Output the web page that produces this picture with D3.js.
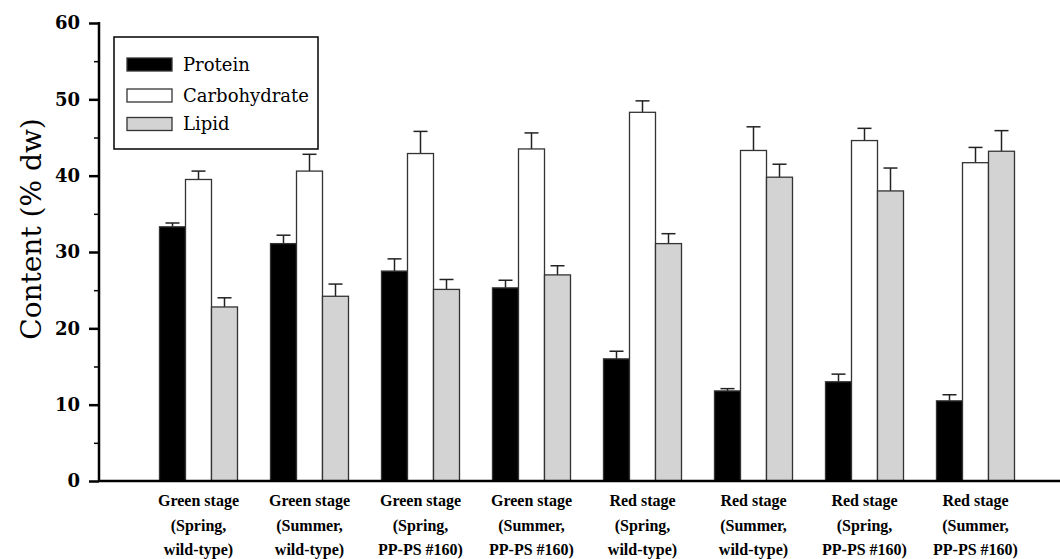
<!DOCTYPE html>
<html>
<head>
<meta charset="utf-8">
<script src="https://cdn.jsdelivr.net/npm/d3@7"></script>
<style>
  html, body { margin: 0; padding: 0; background: #fff; }
  svg { display: block; }
</style>
</head>
<body>
<svg id="chart" width="1060" height="559"></svg>
<script>
// ---- data ----
const categories = [
  ["Green stage", "(Spring,", "wild-type)"],
  ["Green stage", "(Summer,", "wild-type)"],
  ["Green stage", "(Spring,", "PP-PS #160)"],
  ["Green stage", "(Summer,", "PP-PS #160)"],
  ["Red stage", "(Spring,", "wild-type)"],
  ["Red stage", "(Summer,", "wild-type)"],
  ["Red stage", "(Spring,", "PP-PS #160)"],
  ["Red stage", "(Summer,", "PP-PS #160)"]
];
const seriesNames = ["Protein", "Carbohydrate", "Lipid"];
const protein = [33.3, 31.1, 27.5, 25.3, 16.0, 11.8, 13.0, 10.5];
const proteinErr = [0.5, 1.1, 1.6, 1.0, 1.0, 0.3, 1.0, 0.8];
const carbohydrate = [39.5, 40.6, 42.9, 43.5, 48.3, 43.3, 44.6, 41.7];
const carbohydrateErr = [1.1, 2.2, 2.9, 2.1, 1.5, 3.1, 1.6, 2.0];
const lipid = [22.8, 24.2, 25.1, 27.0, 31.1, 39.8, 38.0, 43.2];
const lipidErr = [1.2, 1.6, 1.3, 1.2, 1.3, 1.7, 3.0, 2.7];
const yTicks = [0, 10, 20, 30, 40, 50, 60];
const yMinorTicks = [5, 15, 25, 35, 45, 55];
const yTitle = "Content (% dw)";

const seriesColors = { "Protein": "#000000", "Carbohydrate": "#ffffff", "Lipid": "#d3d3d3" };
const seriesValues = { "Protein": protein, "Carbohydrate": carbohydrate, "Lipid": lipid };
const seriesErrs = { "Protein": proteinErr, "Carbohydrate": carbohydrateErr, "Lipid": lipidErr };

// ---- layout ----
const svg = d3.select("#chart");
const axisX = 99, yTop = 23, yBottom = 481;
const y = d3.scaleLinear().domain([0, 60]).range([yBottom, yTop]);
const catIdx = d3.range(categories.length);
const x0 = d3.scaleBand().domain(catIdx).range([143, 1031]).padding(0);
const x1 = d3.scaleBand().domain(seriesNames).range([16.5, 94.5]).padding(0);

const serif = "'DejaVu Serif', 'Liberation Serif', serif";

// bars
const barData = [];
seriesNames.forEach(s => {
  catIdx.forEach(i => barData.push({ s, i, v: seriesValues[s][i], e: seriesErrs[s][i] }));
});

const g = svg.append("g");
g.selectAll("line.err").data(barData).enter().append("line")
  .attr("x1", d => x0(d.i) + x1(d.s) + x1.bandwidth() / 2)
  .attr("x2", d => x0(d.i) + x1(d.s) + x1.bandwidth() / 2)
  .attr("y1", d => y(d.v))
  .attr("y2", d => y(d.v + d.e))
  .attr("stroke", "#222").attr("stroke-width", 1.5);
g.selectAll("line.cap").data(barData).enter().append("line")
  .attr("x1", d => x0(d.i) + x1(d.s) + x1.bandwidth() / 2 - 7)
  .attr("x2", d => x0(d.i) + x1(d.s) + x1.bandwidth() / 2 + 7)
  .attr("y1", d => y(d.v + d.e))
  .attr("y2", d => y(d.v + d.e))
  .attr("stroke", "#222").attr("stroke-width", 1.5);

g.selectAll("rect.bar").data(barData).enter().append("rect")
  .attr("x", d => x0(d.i) + x1(d.s))
  .attr("y", d => y(d.v))
  .attr("width", x1.bandwidth())
  .attr("height", d => y(0) - y(d.v))
  .attr("fill", d => seriesColors[d.s])
  .attr("stroke", "#333").attr("stroke-width", 1.3);

// y axis
const yAxis = d3.axisLeft(y).tickValues(yTicks).tickSize(10).tickPadding(9).tickFormat(d3.format("d"));
const ya = svg.append("g").attr("transform", `translate(${axisX},0)`).call(yAxis);
ya.select(".domain").remove();
ya.selectAll(".tick line").attr("stroke", "#000").attr("stroke-width", 2.5);
ya.selectAll(".tick text")
  .attr("font-family", serif).attr("font-weight", "bold").attr("font-size", 18).attr("fill", "#000");
const yMinor = d3.axisLeft(y).tickValues(yMinorTicks).tickSize(5).tickFormat("");
const ym = svg.append("g").attr("transform", `translate(${axisX},0)`).call(yMinor);
ym.select(".domain").remove();
ym.selectAll(".tick line").attr("stroke", "#000").attr("stroke-width", 1.5);

svg.append("line").attr("x1", axisX).attr("x2", axisX).attr("y1", y(60) - 1).attr("y2", y(0) + 1)
  .attr("stroke", "#000").attr("stroke-width", 2.5);
svg.append("line").attr("x1", axisX).attr("x2", 1060).attr("y1", y(0)).attr("y2", y(0))
  .attr("stroke", "#000").attr("stroke-width", 2.5);

// x labels
const xl = svg.append("g");
catIdx.forEach(i => {
  const cx = x0(i) + x0.bandwidth() / 2;
  categories[i].forEach((line, k) => {
    xl.append("text").attr("x", cx).attr("y", 506 + k * 24.5)
      .attr("text-anchor", "middle")
      .attr("font-family", "'Liberation Serif', serif").attr("font-weight", "bold")
      .attr("font-size", 16).attr("fill", "#000").text(line);
  });
});

// y title
svg.append("text")
  .attr("transform", `translate(41,${229}) rotate(-90)`)
  .attr("text-anchor", "middle")
  .attr("font-family", serif).attr("font-size", 28).attr("fill", "#000")
  .text(yTitle);

// legend
const lg = svg.append("g");
lg.append("rect").attr("x", 114).attr("y", 37).attr("width", 204).attr("height", 112)
  .attr("fill", "#fff").attr("stroke", "#000").attr("stroke-width", 1.5);
const legendY = [64.5, 95.5, 124];
seriesNames.forEach((s, k) => {
  lg.append("rect").attr("x", 127).attr("y", legendY[k] - 6.5).attr("width", 45).attr("height", 13)
    .attr("fill", seriesColors[s]).attr("stroke", "#333").attr("stroke-width", 1.3);
  lg.append("text").attr("x", 183).attr("y", legendY[k] + 6)
    .attr("font-family", serif).attr("font-size", 18).attr("fill", "#000").text(s);
});
</script>
</body>
</html>
